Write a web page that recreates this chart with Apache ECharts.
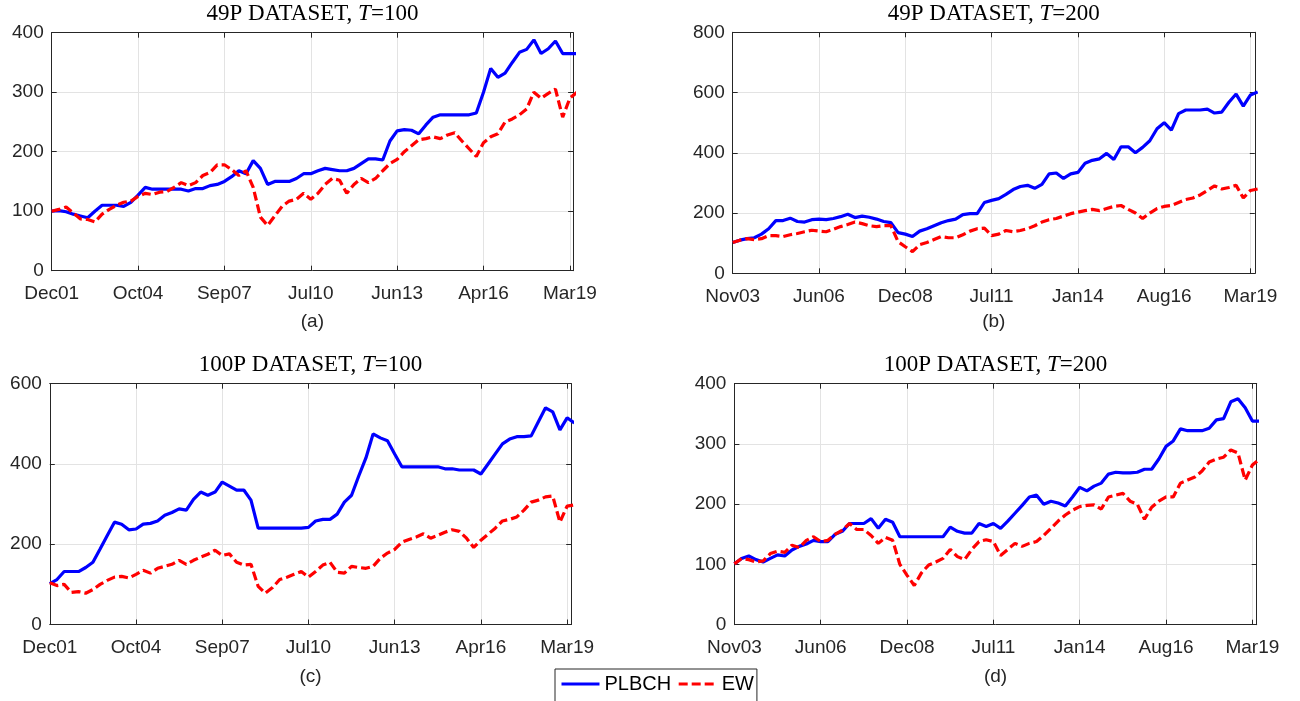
<!DOCTYPE html>
<html>
<head>
<meta charset="utf-8">
<script src="https://cdn.jsdelivr.net/npm/echarts@6/dist/echarts.min.js"></script>
<style>
  html, body { margin: 0; padding: 0; background: #ffffff; }
  #chart { width: 1300px; height: 701px; }
</style>
</head>
<body>
<div id="chart"></div>
<script>
// ---- Tick labels (one label every 12 samples) ----
const ticksT100 = ['Dec01', 'Oct04', 'Sep07', 'Jul10', 'Jun13', 'Apr16', 'Mar19'];
const ticksT200 = ['Nov03', 'Jun06', 'Dec08', 'Jul11', 'Jan14', 'Aug16', 'Mar19'];
const samplesPerTick = 12;

// ---- Panel titles / captions ----
const panelTitles = ['49P DATASET, {it|T}=100', '49P DATASET, {it|T}=200', '100P DATASET, {it|T}=100', '100P DATASET, {it|T}=200'];
const panelCaptions = ['(a)', '(b)', '(c)', '(d)'];
const seriesNames = ['PLBCH', 'EW'];

// ---- Series values (wealth, sampled every 1/12 of a tick interval) ----
const plbch49T100 = [100,101,99,95,92,89,100,110,110,110,108,115,127,140,137,137,137,137,137,134,138,138,143,145,150,158,168,163,185,172,145,150,150,150,155,163,163,168,172,170,168,168,172,180,188,188,186,218,235,237,236,230,245,258,262,262,262,262,262,265,300,340,325,332,350,367,372,388,365,373,386,365,365,365];
const ew49T100 = [100,103,107,97,87,86,82,95,103,110,115,117,125,130,128,132,133,140,148,143,148,160,165,178,178,170,160,168,140,90,76,92,108,117,120,130,120,130,145,155,152,130,145,155,148,155,168,180,187,200,210,220,222,225,222,228,232,218,205,192,215,225,230,250,255,262,272,300,290,298,305,258,290,300];

const plbch49T200 = [102,110,115,118,130,148,175,175,183,172,170,178,180,178,182,188,196,185,190,186,180,172,168,135,130,122,140,148,158,168,175,180,195,198,198,235,242,248,262,278,288,292,282,295,330,333,315,330,335,365,375,380,398,378,420,420,400,418,440,480,500,475,530,542,542,542,545,532,535,568,595,555,592,602];
const ew49T200 = [102,110,115,112,115,125,125,122,128,132,138,143,140,138,146,155,162,170,165,158,155,158,158,105,88,72,95,102,112,122,118,118,128,140,148,150,125,130,142,138,142,148,158,170,178,182,190,198,203,208,212,208,215,222,225,212,200,182,200,215,222,225,235,245,250,260,275,290,280,285,292,250,275,280];

const plbch100T100 = [102,112,132,132,132,142,155,188,222,255,250,236,238,250,252,258,272,279,288,285,312,330,322,330,355,345,335,335,310,240,240,240,240,240,240,240,242,258,262,262,275,305,322,370,415,475,465,458,425,393,393,393,393,393,393,388,388,385,385,385,375,400,425,450,462,468,468,470,505,540,530,485,515,502];
const ew100T100 = [104,97,100,80,82,78,87,100,110,118,120,116,125,135,128,140,145,150,160,150,160,168,175,185,172,176,155,148,150,95,78,92,112,118,125,132,118,132,148,155,130,128,145,142,140,145,165,178,187,205,212,218,226,215,222,230,236,232,215,192,210,225,240,258,262,268,285,305,310,318,320,255,295,298];

const plbch100T200 = [101,110,114,108,104,110,116,114,124,130,134,140,138,138,150,155,168,168,168,176,160,175,170,146,146,146,146,146,146,146,162,155,152,152,168,163,168,160,172,185,198,212,215,200,205,202,197,212,228,222,230,235,250,253,252,252,253,258,258,275,296,305,325,322,322,322,326,340,342,370,375,360,338,338];
const ew100T200 = [101,110,108,104,106,118,122,120,132,128,140,146,138,140,150,157,168,158,158,148,135,145,140,100,82,65,86,99,104,110,125,113,108,125,138,141,138,115,125,135,130,135,138,148,160,172,182,190,196,198,199,192,212,215,218,205,200,175,195,205,212,212,235,240,245,255,270,275,278,290,285,240,265,275];

// ---- Panel configuration ----
const panels = [
  { grid: { left: 51.7, top: 32.7, width: 521.4, height: 238 }, xMax: 72.45, yMax: 400, yStep: 100, ticks: ticksT100, plbch: plbch49T100, ew: ew49T100 },
  { grid: { left: 732.7, top: 32.3, width: 522.1, height: 241 }, xMax: 72.6, yMax: 800, yStep: 200, ticks: ticksT200, plbch: plbch49T200, ew: ew49T200 },
  { grid: { left: 49.8, top: 383.7, width: 521.4, height: 240.8 }, xMax: 72.57, yMax: 600, yStep: 200, ticks: ticksT100, plbch: plbch100T100, ew: ew100T100 },
  { grid: { left: 734.4, top: 383.7, width: 522.3, height: 241 }, xMax: 72.6, yMax: 400, yStep: 100, ticks: ticksT200, plbch: plbch100T200, ew: ew100T200 }
];

const AX = '#262626';
const GRIDC = '#e3e3e3';
const FONT = 'Liberation Sans, Arial, Helvetica, sans-serif';
const TICKFS = 19;

const grids = [], xAxes = [], yAxes = [], series = [], titles = [];

panels.forEach((p, k) => {
  grids.push(Object.assign({ show: false, containLabel: false }, p.grid));
  const labels = p.ticks;
  xAxes.push({
    type: 'value', gridIndex: k, position: 'bottom', min: 0, max: p.xMax, interval: samplesPerTick,
    axisLine: { show: true, onZero: false, lineStyle: { color: AX, width: 1 } },
    axisTick: { show: true, inside: true, length: 5, lineStyle: { color: AX } },
    axisLabel: {
      show: true, margin: 14, color: AX, fontSize: TICKFS, fontFamily: FONT,
      showMinLabel: true, showMaxLabel: true, hideOverlap: false,
      formatter: (v) => {
        const r = Math.round(v);
        if (Math.abs(v - r) > 1e-6 || r % samplesPerTick !== 0) return '';
        return labels[r / samplesPerTick] || '';
      }
    },
    splitLine: { show: true, lineStyle: { color: GRIDC, width: 1 } }
  });
  xAxes.push({
    type: 'value', gridIndex: k, position: 'top', min: 0, max: p.xMax, interval: samplesPerTick,
    axisLine: { show: true, onZero: false, lineStyle: { color: AX, width: 1 } },
    axisTick: { show: true, inside: true, length: 5, lineStyle: { color: AX } },
    axisLabel: { show: false }, splitLine: { show: false }
  });
  yAxes.push({
    type: 'value', gridIndex: k, position: 'left', min: 0, max: p.yMax, interval: p.yStep,
    axisLine: { show: true, onZero: false, lineStyle: { color: AX, width: 1 } },
    axisTick: { show: true, inside: true, length: 5, lineStyle: { color: AX } },
    axisLabel: { show: true, margin: 8, color: AX, fontSize: TICKFS, fontFamily: FONT },
    splitLine: { show: true, lineStyle: { color: GRIDC, width: 1 } }
  });
  yAxes.push({
    type: 'value', gridIndex: k, position: 'right', min: 0, max: p.yMax, interval: p.yStep,
    axisLine: { show: true, onZero: false, lineStyle: { color: AX, width: 1 } },
    axisTick: { show: true, inside: true, length: 5, lineStyle: { color: AX } },
    axisLabel: { show: false }, splitLine: { show: false }
  });

  const xi = k * 2, yi = k * 2;
  series.push({
    name: seriesNames[0], type: 'line', xAxisIndex: xi, yAxisIndex: yi,
    data: p.plbch.map((v, i) => [i, v]),
    symbol: 'none', showSymbol: false, clip: true,
    lineStyle: { color: '#0000ff', width: 3.2, type: 'solid' },
    itemStyle: { color: '#0000ff' }, z: 3
  });
  series.push({
    name: seriesNames[1], type: 'line', xAxisIndex: xi, yAxisIndex: yi,
    data: p.ew.map((v, i) => [i, v]),
    symbol: 'none', showSymbol: false, clip: true,
    lineStyle: { color: '#ff0000', width: 3.2, type: [9, 4] },
    itemStyle: { color: '#ff0000' }, z: 4
  });

  const cx = p.grid.left + p.grid.width / 2;
  titles.push({
    text: panelTitles[k], left: cx, top: k < 2 ? 2.5 : 353, textAlign: 'center', padding: 0,
    textStyle: {
      fontFamily: 'Liberation Serif, Times New Roman, serif', fontSize: 23, fontWeight: 'normal', color: '#000',
      rich: { it: { fontFamily: 'Liberation Serif, Times New Roman, serif', fontSize: 23, fontStyle: 'italic', color: '#000' } }
    }
  });
  titles.push({
    text: panelCaptions[k], left: cx, top: k < 2 ? 312.5 : 667, textAlign: 'center', padding: 0,
    textStyle: { fontFamily: FONT, fontSize: TICKFS, fontWeight: 'normal', color: AX }
  });
});

const chart = echarts.init(document.getElementById('chart'), null, { renderer: 'canvas' });
chart.setOption({
  animation: false,
  backgroundColor: '#ffffff',
  title: titles,
  legend: {
    show: true, data: seriesNames, orient: 'horizontal',
    left: 555, top: 669, itemWidth: 38, itemHeight: 14, itemGap: 6,
    padding: [5, 3, 14, 5],
    borderColor: '#262626', borderWidth: 1, backgroundColor: '#ffffff',
    itemStyle: { opacity: 0 },
    lineStyle: { width: 3 },
    textStyle: { fontFamily: FONT, fontSize: 20, color: '#000' }
  },
  grid: grids,
  xAxis: xAxes,
  yAxis: yAxes,
  series: series
});
</script>
</body>
</html>
